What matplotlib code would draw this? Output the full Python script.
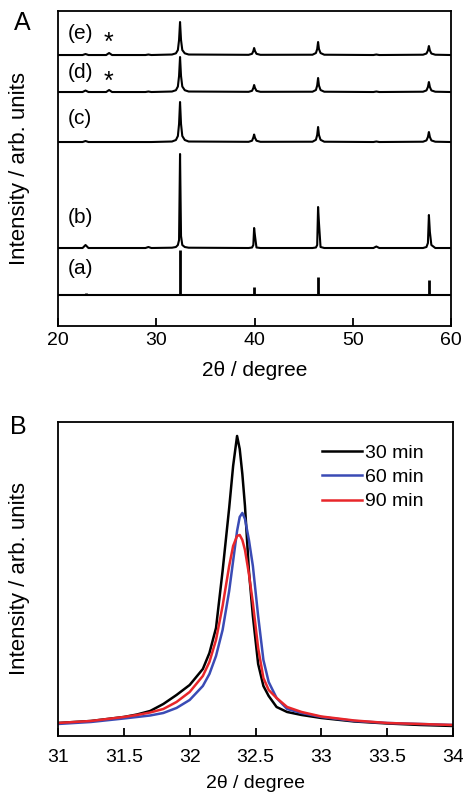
import numpy as np
from matplotlib import pyplot as plt

plt.rcParams['font.family'] = ['Liberation Sans', 'DejaVu Sans']

# panel A: XRD patterns, intensities in arbitrary units above each baseline
two_theta = [20.0, 22.5, 22.8, 23.1, 24.9, 25.2, 25.5, 28.9, 29.2, 29.5,
             31.6, 32.0, 32.2, 32.32, 32.42, 32.52, 32.65, 32.9, 33.3,
             39.4, 39.75, 39.88, 39.96, 40.05, 40.2, 40.6,
             45.9, 46.25, 46.38, 46.47, 46.56, 46.72, 47.1,
             52.1, 52.4, 52.7,
             57.15, 57.5, 57.65, 57.75, 57.85, 58.0, 58.4,
             60.0]

int_e = [0, 0, 1, 0, 0, 2, 0, 0, 0.5, 0,
         0.5, 1.7, 5, 15, 33, 15, 5, 1.7, 0.5,
         0.2, 1.2, 4, 7, 4, 1.2, 0.2,
         0.3, 2, 6, 13, 6, 2, 0.3,
         0, 0.5, 0,
         0.3, 1.5, 4.5, 9, 4.5, 1.5, 0.3,
         0]
int_d = [0, 0, 1.5, 0, 0, 2, 0, 0, 0.5, 0,
         0.5, 1.8, 5.5, 16, 35, 16, 5.5, 1.8, 0.5,
         0.2, 1.2, 4, 7, 4, 1.2, 0.2,
         0.3, 2, 6.5, 14, 6.5, 2, 0.3,
         0, 0.5, 0,
         0.3, 1.6, 5, 10, 5, 1.6, 0.3,
         0]
int_c = [0, 0, 1, 0, 0, 0, 0, 0, 0, 0,
         0.5, 2, 6, 18, 40, 18, 6, 2, 0.5,
         0.2, 1.3, 4.5, 7.5, 4.2, 1.3, 0.2,
         0.3, 2.2, 7, 15, 7, 2.2, 0.3,
         0, 0.5, 0,
         0.3, 1.6, 5, 10, 5, 1.6, 0.3,
         0]
int_b = [0, 0, 3, 0, 0, 0, 0, 0, 1, 0,
         0.3, 1, 3, 8, 94, 12, 3, 1, 0.3,
         0, 0.5, 3, 20, 12, 0.5, 0,
         0, 0.5, 3, 41, 25, 1, 0,
         0, 1.5, 0,
         0, 1, 5, 33, 16, 3, 0,
         0]
offsets = {'e': 271, 'd': 234, 'c': 184, 'b': 78}
label_y = {'e': 293, 'd': 254, 'c': 208, 'b': 109, 'a': 58}

# reference pattern (a)
stick_pos = [22.8, 32.42, 39.96, 46.47, 52.4, 57.75]
stick_int = [2, 45, 8, 18, 1.5, 15]
stick_base = 31

# panel B: zoom on the main peak
theta_b = [31.0, 31.25, 31.5, 31.6, 31.7, 31.8, 31.9, 32.0, 32.1, 32.15,
           32.2, 32.25, 32.3, 32.33, 32.36, 32.38, 32.4, 32.42, 32.45, 32.48,
           32.52, 32.56, 32.6, 32.66, 32.74, 32.85, 33.0, 33.25, 33.5, 33.75, 34.0]
i_30 = [13, 15, 19, 21.5, 25, 32, 41, 51, 67, 83,
        108, 165, 228, 270, 300, 287, 262, 230, 165, 120,
        72, 50, 40, 29, 24, 21, 18, 14.5, 12.5, 11, 10]
i_60 = [12, 14, 17.5, 19, 20.5, 23, 28, 36, 50, 62,
        80, 106, 145, 175, 205, 219, 223, 217, 196, 170,
        120, 76, 54, 38, 27, 23, 19, 15, 13, 12, 11]
i_90 = [13, 15, 19, 21, 23.5, 27, 34, 44, 60, 74,
        96, 130, 170, 190, 200, 201, 196, 186, 162, 133,
        88, 58, 46, 38, 29, 24, 19.5, 15.5, 13, 12, 11]
times = ['30 min', '60 min', '90 min']
colors = ['#000000', '#3a4bb5', '#e8262a']

fig = plt.figure(figsize=(4.63, 7.93), dpi=100)

ax1 = fig.add_axes([0.1253, 0.5889, 0.8488, 0.3972])
for key, vals in [('e', int_e), ('d', int_d), ('c', int_c), ('b', int_b)]:
    ax1.plot(two_theta, np.array(vals) + offsets[key], color='k', lw=1.5)
ax1.axhline(stick_base, color='k', lw=1.5)
ax1.vlines(stick_pos, stick_base, np.array(stick_int) + stick_base, color='k', lw=2)
for key in ['e', 'd', 'c', 'b', 'a']:
    ax1.text(20.95, label_y[key], '(%s)' % key, fontsize=15, va='center')
ax1.text(25.15, 283, '*', fontsize=18, ha='center', va='center')
ax1.text(25.15, 244, '*', fontsize=18, ha='center', va='center')
ax1.set_xlim(20, 60)
ax1.set_ylim(0, 315)
ax1.set_xticks([20, 30, 40, 50, 60])
ax1.set_yticks([])
ax1.tick_params(axis='x', direction='in', length=6, width=1.3, labelsize=14, pad=4)
ax1.set_xlabel('2θ / degree', fontsize=15)
ax1.xaxis.set_label_coords(0.5, -0.112)
ax1.set_ylabel('Intensity / arb. units', fontsize=16)
ax1.yaxis.set_label_coords(-0.071, 0.5)
for s in ax1.spines.values():
    s.set_linewidth(1.3)
fig.text(0.049, 0.971, 'A', fontsize=18, ha='center', va='center')

ax2 = fig.add_axes([0.1253, 0.0719, 0.8531, 0.3960])
for vals, lab, c in zip([i_30, i_60, i_90], times, colors):
    ax2.plot(theta_b, vals, color=c, lw=1.8, label=lab)
ax2.set_xlim(31, 34)
ax2.set_ylim(0, 314)
ax2.set_xticks([31, 31.5, 32, 32.5, 33, 33.5, 34])
ax2.set_xticklabels(['31', '31.5', '32', '32.5', '33', '33.5', '34'])
ax2.set_yticks([])
ax2.tick_params(axis='x', direction='in', length=6, width=1.3, labelsize=14, pad=9.5)
ax2.set_xlabel('2θ / degree', fontsize=14)
ax2.xaxis.set_label_coords(0.5, -0.125)
ax2.set_ylabel('Intensity / arb. units', fontsize=16)
ax2.yaxis.set_label_coords(-0.071, 0.5)
for s in ax2.spines.values():
    s.set_linewidth(1.3)
ax2.legend(loc='upper right', bbox_to_anchor=(0.925, 0.93), frameon=False,
           fontsize=14, handlelength=2.05, handletextpad=0.15,
           labelspacing=0.35, borderpad=0, borderaxespad=0)
fig.text(0.04, 0.462, 'B', fontsize=18, ha='center', va='center')

fig.savefig('out.png', dpi=100)
